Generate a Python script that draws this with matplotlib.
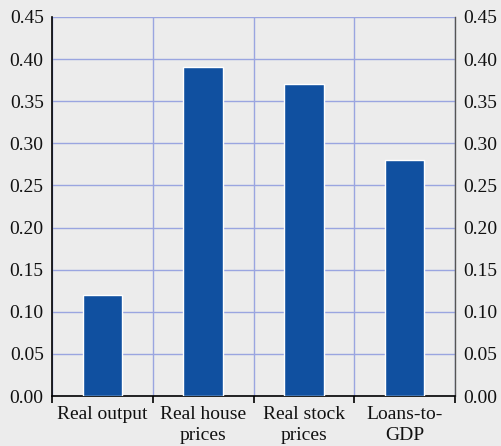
import numpy as np
import matplotlib.pyplot as plt
import matplotlib.ticker as mticker

plt.rcParams['font.family'] = ['Liberation Serif', 'DejaVu Serif']

categories = ['Real output', 'Real house\nprices', 'Real stock\nprices', 'Loans-to-\nGDP']
values = [0.12, 0.39, 0.37, 0.28]
yticks = [0.00, 0.05, 0.10, 0.15, 0.20, 0.25, 0.30, 0.35, 0.40, 0.45]

bg = '#ececec'
fig = plt.figure(figsize=(5.02, 4.46), dpi=100, facecolor=bg)
ax1 = fig.add_axes([0.1036, 0.112, 0.8028, 0.85])
ax1.set_facecolor(bg)

x = np.arange(len(categories))
ax1.bar(x, values, width=0.39, color='#1050a0', edgecolor='white', linewidth=1, zorder=3)

ax1.set_xlim(-0.5, len(categories) - 0.5)
ax1.set_ylim(0, 0.45)
ax1.set_yticks(yticks)
ax1.yaxis.set_major_formatter(mticker.FormatStrFormatter('%.2f'))
ax1.set_xticks(x)
ax1.set_xticklabels(categories, linespacing=1.3)
ax1.set_xticks(np.arange(-0.5, len(categories)), minor=True)

ax1.tick_params(axis='x', which='major', length=0, labelsize=14, pad=7)
ax1.tick_params(axis='x', which='minor', length=5, width=1.2, direction='out', color='black')
ax1.tick_params(axis='y', length=0, labelsize=14, labelright=True, right=False, pad=6)
ax1.tick_params(axis='both', which='both', labelcolor='#111111')

ax1.grid(axis='y', color='#9aa5e0', linewidth=1, zorder=0)
ax1.grid(axis='x', which='minor', color='#9aa5e0', linewidth=1, zorder=0)
ax1.set_axisbelow(True)

ax1.spines['top'].set_visible(False)
ax1.spines['bottom'].set_color('black')
ax1.spines['bottom'].set_linewidth(1.2)
ax1.spines['left'].set_color('black')
ax1.spines['left'].set_linewidth(1.2)
ax1.spines['right'].set_color('#555555')
ax1.spines['right'].set_linewidth(1)

plt.savefig('out.png', dpi=100, facecolor=bg)
